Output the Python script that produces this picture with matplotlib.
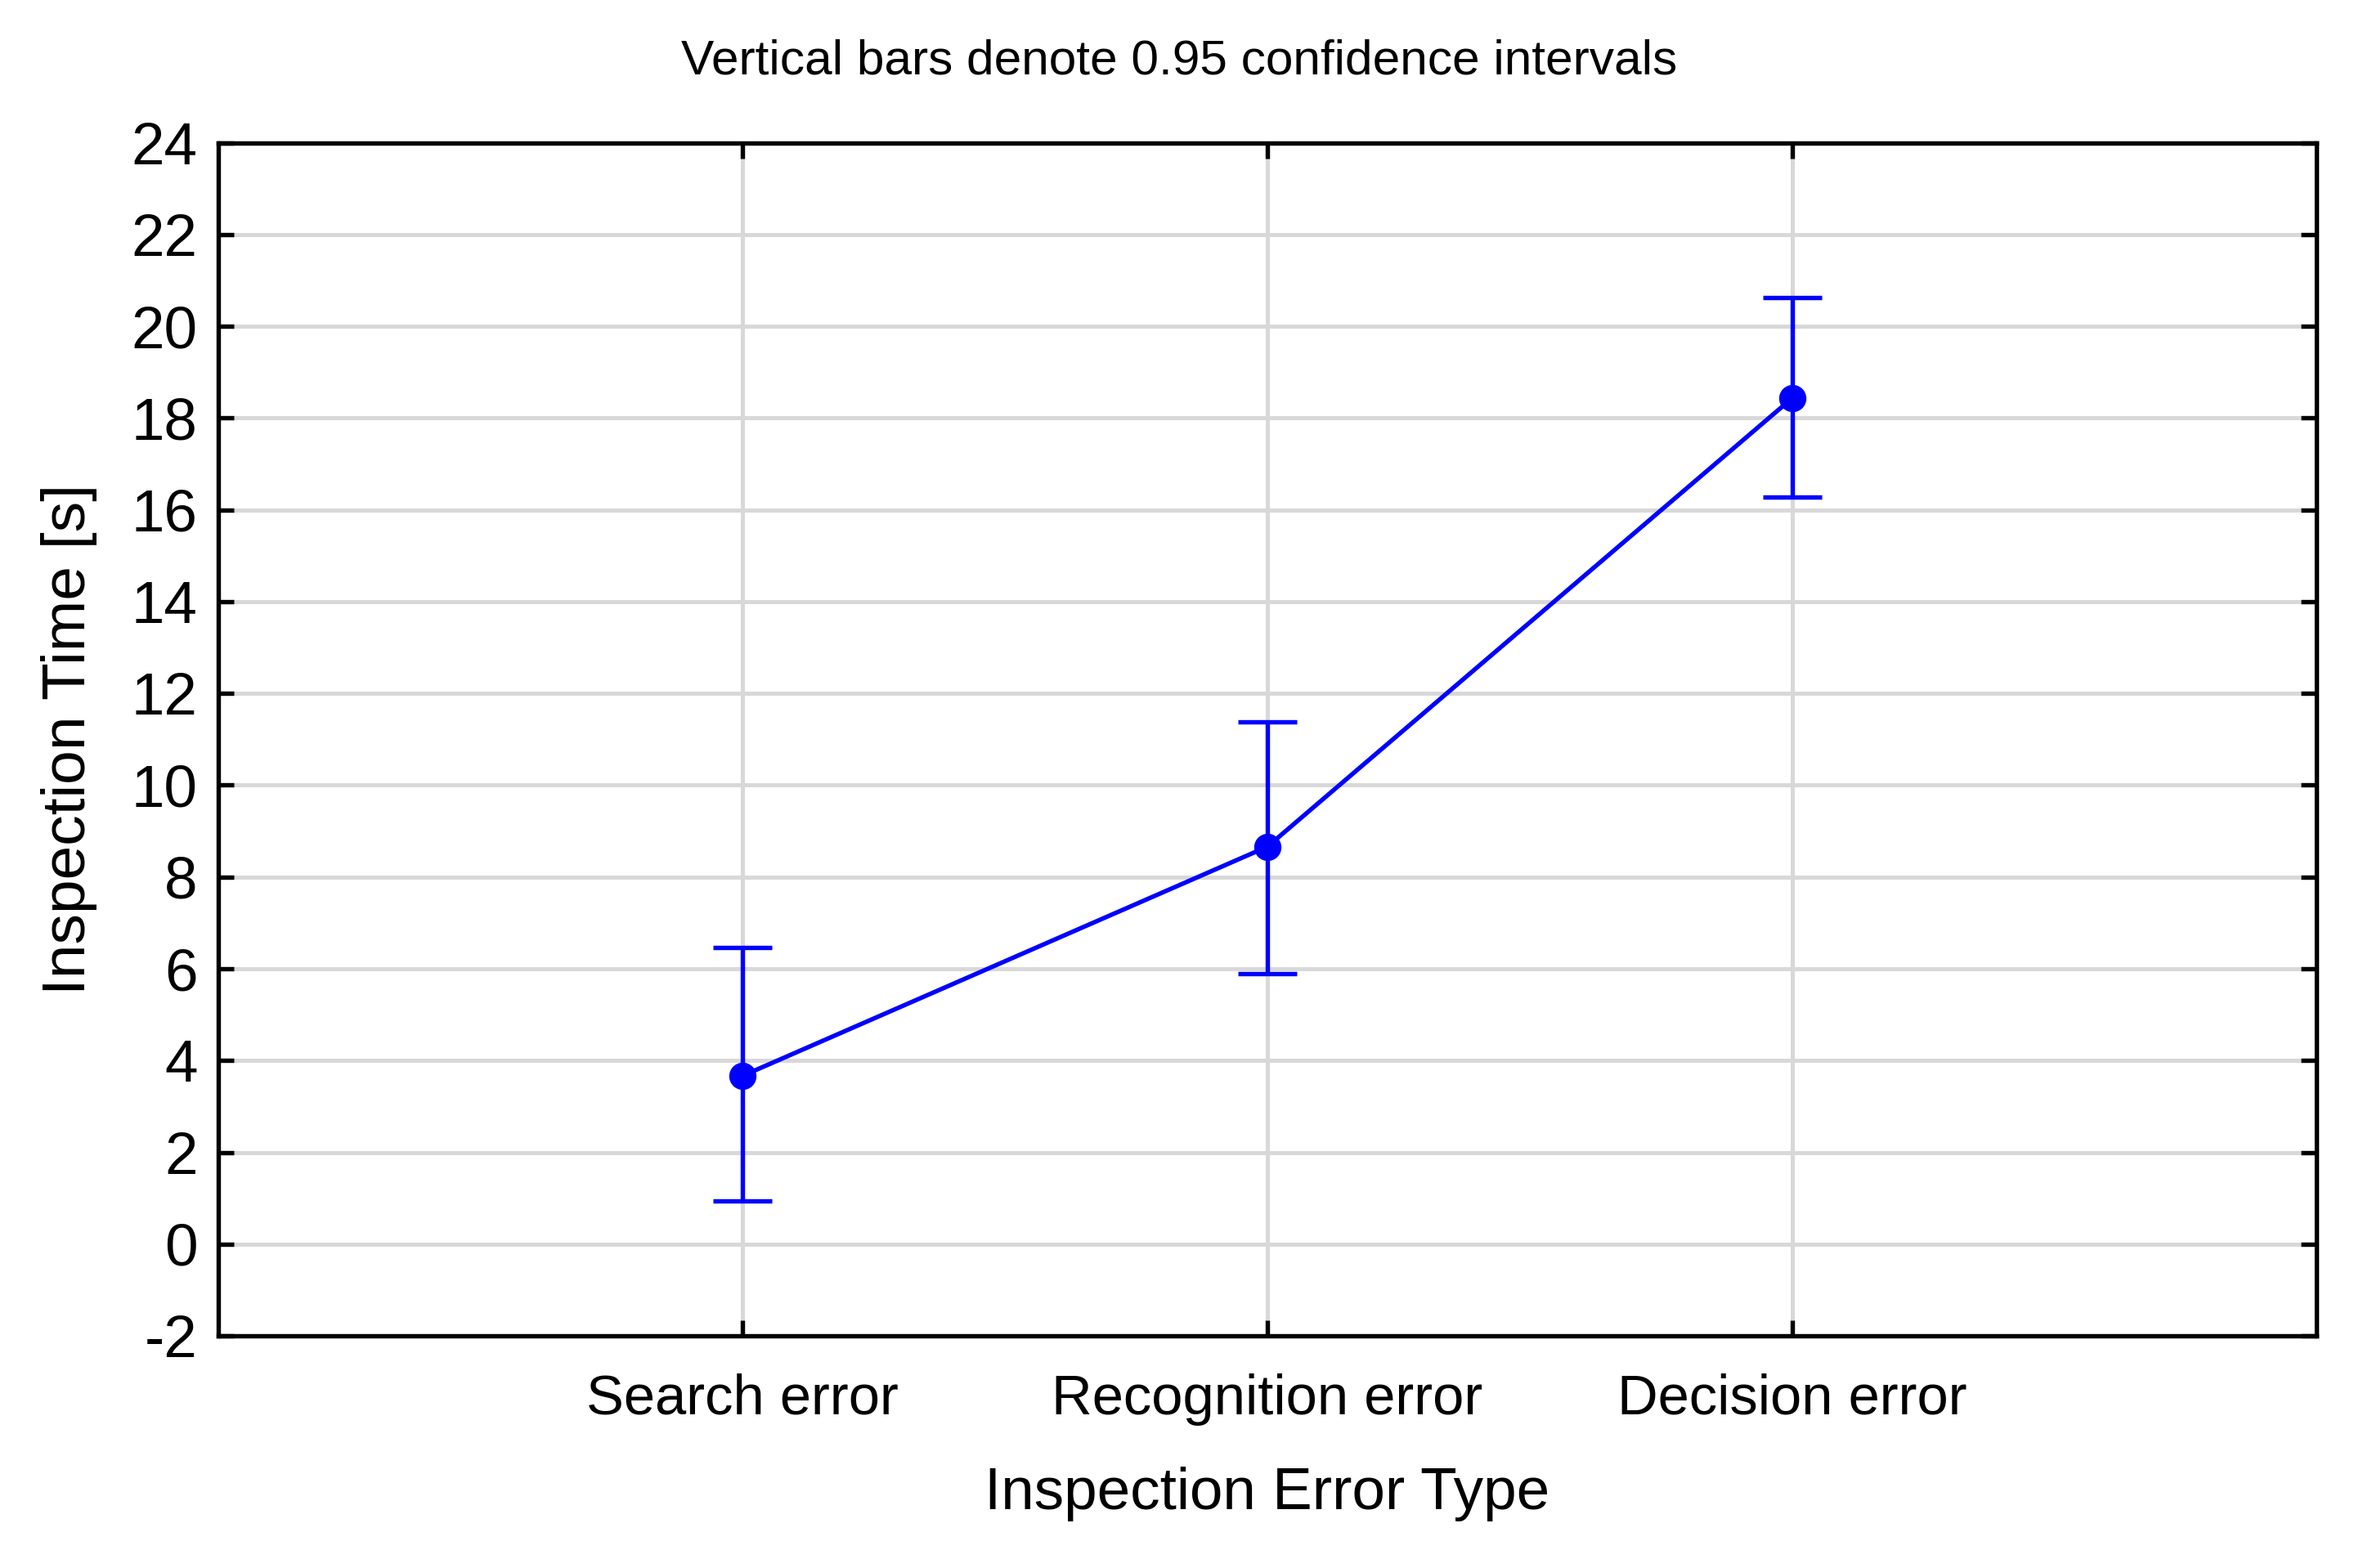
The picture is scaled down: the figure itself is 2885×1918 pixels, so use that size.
import matplotlib.pyplot as plt

# 数据
categories = ["Search error", "Recognition error", "Decision error"]
means = [3.67, 8.66, 18.43]
ci_low = [0.95, 5.90, 16.28]
ci_high = [6.46, 11.38, 20.62]

plt.rcParams["font.family"] = ["Liberation Sans", "DejaVu Sans"]
plt.rcParams["axes.unicode_minus"] = False

fig = plt.figure(figsize=(2885 / 300, 1918 / 300), dpi=300)
ax = fig.add_axes([0.0925, 0.148, 0.8895, 0.761])

x = list(range(len(categories)))
yerr = [
    [m - lo for m, lo in zip(means, ci_low)],
    [hi - m for m, hi in zip(means, ci_high)],
]
ax.errorbar(
    x,
    means,
    yerr=yerr,
    color="#0000ff",
    linewidth=1.3,
    elinewidth=1.3,
    capsize=8.6,
    capthick=1.3,
    marker="o",
    markersize=7,
    zorder=3,
)

ax.set_xlim(-1, 3)
ax.set_ylim(-2, 24)
ax.set_yticks(range(-2, 25, 2))
ax.set_xticks(x)
ax.set_xticklabels(categories, fontsize=16.5)

ax.grid(True, color="#d8d8d8", linewidth=1.2)
ax.set_axisbelow(True)
for sp in ax.spines.values():
    sp.set_linewidth(1.3)

ax.tick_params(
    direction="in", length=4.5, width=1.3, top=True, right=True,
)
ax.tick_params(axis="y", labelsize=17.5, pad=6)
ax.tick_params(axis="x", pad=11)
ax.set_xlabel("Inspection Error Type", fontsize=17.5, labelpad=12)
ax.set_ylabel("Inspection Time [s]", fontsize=18, labelpad=10)
# 标题按整幅图居中
fig.text(0.5, 0.961, "Vertical bars denote 0.95 confidence intervals",
         fontsize=14.5, ha="center", va="center")

fig.savefig("out.png", dpi=300)
